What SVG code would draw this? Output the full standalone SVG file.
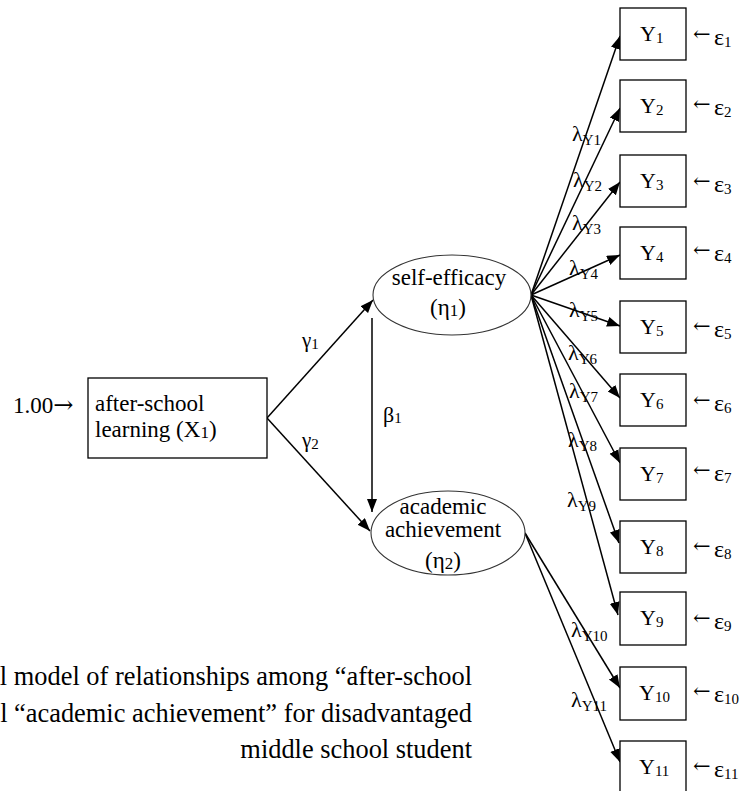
<svg xmlns="http://www.w3.org/2000/svg" width="744" height="791" viewBox="0 0 744 791">
<defs>
<marker id="ah" markerUnits="userSpaceOnUse" markerWidth="14" markerHeight="11" refX="13" refY="5" orient="auto">
<path d="M0,0 L13,5 L0,10 z" fill="#000"/>
</marker>
<style>
text{font-family:"Liberation Serif","Times New Roman",serif;fill:#000}
.n{font-size:23px}
.m{text-anchor:middle}
.box{fill:#fff;stroke:#000;stroke-width:1.3}
.ell{fill:#fff;stroke:#333;stroke-width:1.1}
.c{stroke:#000;stroke-width:1.5;fill:none;marker-end:url(#ah)}
.y{font-size:22px}
.sub{font-size:15px}
.lam{font-size:22px}
.eps{font-size:24px}
.arr{font-family:"DejaVu Serif",serif;font-size:21px}
.cap{font-size:26.4px;text-anchor:end}
</style>
</defs>
<rect width="744" height="791" fill="#fff"/>

<g id="connectors">
<line class="c" x1="267" y1="418" x2="373" y2="300"/>
<line class="c" x1="267" y1="418" x2="370" y2="531"/>
<line class="c" x1="372" y1="318" x2="372" y2="512"/>
<line class="c" x1="531" y1="295" x2="620" y2="36"/>
<line class="c" x1="531" y1="295" x2="620" y2="108"/>
<line class="c" x1="531" y1="295" x2="620" y2="182"/>
<line class="c" x1="531" y1="295" x2="620" y2="255"/>
<line class="c" x1="531" y1="295" x2="620" y2="326"/>
<line class="c" x1="531" y1="295" x2="620" y2="398"/>
<line class="c" x1="531" y1="295" x2="620" y2="463"/>
<line class="c" x1="531" y1="295" x2="619" y2="543"/>
<line class="c" x1="531" y1="295" x2="618" y2="615"/>
<line class="c" x1="525" y1="533" x2="620" y2="688"/>
<line class="c" x1="525" y1="533" x2="620" y2="762"/>
</g>

<g id="labels">
<text x="13" y="413" class="n">1.00<tspan class="arr" style="font-size:24px">→</tspan></text>
<text x="302" y="347" style="font-size:21px">γ<tspan class="sub" dy="2">1</tspan></text>
<text x="302" y="447" style="font-size:21px">γ<tspan class="sub" dy="2">2</tspan></text>
<text x="383" y="422" style="font-size:22px">β<tspan class="sub" dy="1">1</tspan></text>
<text x="572" y="141" class="lam">λ<tspan class="sub" dy="4">Y1</tspan></text>
<text x="573" y="187" class="lam">λ<tspan class="sub" dy="4">Y2</tspan></text>
<text x="572" y="230" class="lam">λ<tspan class="sub" dy="4">Y3</tspan></text>
<text x="569" y="275" class="lam">λ<tspan class="sub" dy="4">Y4</tspan></text>
<text x="569" y="317" class="lam">λ<tspan class="sub" dy="4">Y5</tspan></text>
<text x="568" y="360" class="lam">λ<tspan class="sub" dy="4">Y6</tspan></text>
<text x="569" y="398" class="lam">λ<tspan class="sub" dy="4">Y7</tspan></text>
<text x="568" y="447" class="lam">λ<tspan class="sub" dy="4">Y8</tspan></text>
<text x="567" y="507" class="lam">λ<tspan class="sub" dy="4">Y9</tspan></text>
<text x="571" y="637" class="lam">λ<tspan class="sub" dy="4">Y10</tspan></text>
<text x="571" y="707" class="lam">λ<tspan class="sub" dy="4">Y11</tspan></text>
</g>

<g id="x1">
<rect class="box" x="88" y="378" width="179" height="80"/>
<text class="n" x="95" y="411">after-school</text>
<text class="n" x="95" y="437">learning (X<tspan class="sub" style="font-size:17px" dy="1">1</tspan><tspan dy="-1">)</tspan></text>
</g>

<g id="eta1">
<ellipse class="ell" cx="452" cy="295" rx="79" ry="40"/>
<text class="n m" x="449" y="285">self-efficacy</text>
<text class="n m" x="448" y="315">(η<tspan class="sub" style="font-size:17px" dy="1">1</tspan><tspan dy="-1">)</tspan></text>
</g>

<g id="eta2">
<ellipse class="ell" cx="448" cy="533" rx="77" ry="42"/>
<text class="n m" x="443" y="514">academic</text>
<text class="n m" x="443" y="537">achievement</text>
<text class="n m" x="443" y="568">(η<tspan class="sub" style="font-size:17px" dy="1">2</tspan><tspan dy="-1">)</tspan></text>
</g>

<g id="Y1"><rect class="box" x="620" y="8" width="66" height="52"/><text class="y" x="640" y="41">Y<tspan class="sub" dy="2">1</tspan></text><text class="arr" x="693" y="41">←</text><text class="eps" x="714" y="45">ε<tspan class="sub" dy="2">1</tspan></text></g>
<g id="Y2"><rect class="box" x="620" y="80" width="66" height="52"/><text class="y" x="640" y="113">Y<tspan class="sub" dy="2">2</tspan></text><text class="arr" x="693" y="111">←</text><text class="eps" x="714" y="115">ε<tspan class="sub" dy="2">2</tspan></text></g>
<g id="Y3"><rect class="box" x="620" y="155" width="66" height="52"/><text class="y" x="640" y="188">Y<tspan class="sub" dy="2">3</tspan></text><text class="arr" x="693" y="188">←</text><text class="eps" x="714" y="192">ε<tspan class="sub" dy="2">3</tspan></text></g>
<g id="Y4"><rect class="box" x="620" y="227" width="66" height="52"/><text class="y" x="640" y="260">Y<tspan class="sub" dy="2">4</tspan></text><text class="arr" x="693" y="257">←</text><text class="eps" x="714" y="261">ε<tspan class="sub" dy="2">4</tspan></text></g>
<g id="Y5"><rect class="box" x="620" y="301" width="66" height="52"/><text class="y" x="640" y="334">Y<tspan class="sub" dy="2">5</tspan></text><text class="arr" x="693" y="333">←</text><text class="eps" x="714" y="337">ε<tspan class="sub" dy="2">5</tspan></text></g>
<g id="Y6"><rect class="box" x="620" y="374" width="66" height="52"/><text class="y" x="640" y="407">Y<tspan class="sub" dy="2">6</tspan></text><text class="arr" x="693" y="407">←</text><text class="eps" x="714" y="411">ε<tspan class="sub" dy="2">6</tspan></text></g>
<g id="Y7"><rect class="box" x="620" y="448" width="66" height="52"/><text class="y" x="640" y="481">Y<tspan class="sub" dy="2">7</tspan></text><text class="arr" x="693" y="477">←</text><text class="eps" x="714" y="481">ε<tspan class="sub" dy="2">7</tspan></text></g>
<g id="Y8"><rect class="box" x="620" y="521" width="66" height="52"/><text class="y" x="640" y="554">Y<tspan class="sub" dy="2">8</tspan></text><text class="arr" x="693" y="553">←</text><text class="eps" x="714" y="557">ε<tspan class="sub" dy="2">8</tspan></text></g>
<g id="Y9"><rect class="box" x="620" y="592" width="66" height="53"/><text class="y" x="640" y="625">Y<tspan class="sub" dy="2">9</tspan></text><text class="arr" x="693" y="625">←</text><text class="eps" x="714" y="629">ε<tspan class="sub" dy="2">9</tspan></text></g>
<g id="Y10"><rect class="box" x="620" y="667" width="66" height="53"/><text class="y" x="639" y="700">Y<tspan class="sub" dy="2">10</tspan></text><text class="arr" x="693" y="698">←</text><text class="eps" x="714" y="702">ε<tspan class="sub" dy="2">10</tspan></text></g>
<g id="Y11"><rect class="box" x="620" y="741" width="66" height="53"/><text class="y" x="639" y="774">Y<tspan class="sub" dy="2">11</tspan></text><text class="arr" x="693" y="773">←</text><text class="eps" x="714" y="777">ε<tspan class="sub" dy="2">11</tspan></text></g>

<g id="caption">
<text class="cap" x="472" y="685">l model of relationships among “after-school</text>
<text class="cap" x="472" y="722">l “academic achievement” for disadvantaged</text>
<text class="cap" x="472" y="758">middle school student</text>
</g>
</svg>
